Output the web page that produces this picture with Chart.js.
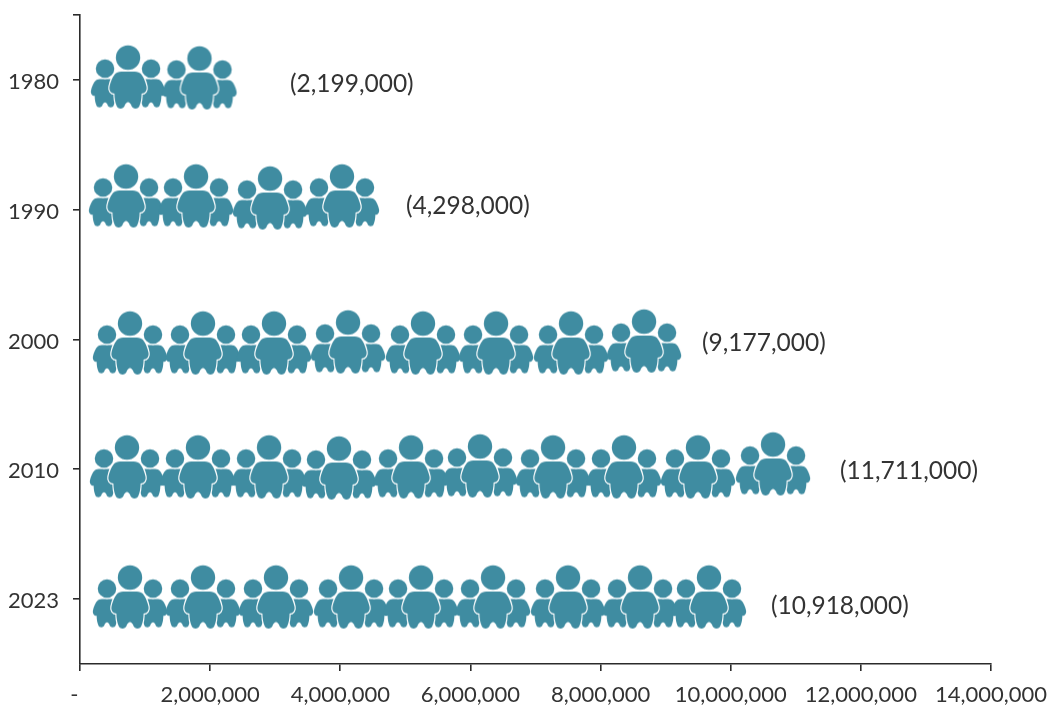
<!DOCTYPE html>
<html>
<head>
<meta charset="utf-8">
<title>Population by year</title>
<script src="https://cdn.jsdelivr.net/npm/chart.js@4"></script>
<style>
  html, body { margin: 0; padding: 0; background: #fff; }
  canvas { display: block; }
</style>
</head>
<body>
<canvas id="peopleChart" width="1050" height="705"></canvas>
<script>
const years = ['1980', '1990', '2000', '2010', '2023'];
const population = [2199000, 4298000, 9177000, 11711000, 10918000];
const xTickValues = [0, 2000000, 4000000, 6000000, 8000000, 10000000, 12000000, 14000000];

// centre of each people icon (x in people, y in rows from the top)
const iconsX1980 = [738000, 1836000];
const iconsY1980 = [0.482, 0.489];
const iconsX1990 = [707000, 1783000, 2920000, 4026000];
const iconsY1990 = [1.398, 1.398, 1.414, 1.398];
const iconsX2000 = [768000, 1890000, 2981000, 4119000, 5271000, 6393000, 7546000, 8668000];
const iconsY2000 = [2.531, 2.531, 2.531, 2.523, 2.531, 2.531, 2.531, 2.516];
const iconsX2010 = [722000, 1813000, 2905000, 3980000, 5087000, 6147000, 7269000, 8360000, 9497000, 10650000];
const iconsY2010 = [3.486, 3.486, 3.486, 3.494, 3.486, 3.478, 3.486, 3.486, 3.486, 3.463];
const iconsX2023 = [768000, 1890000, 3012000, 4165000, 5241000, 6347000, 7500000, 8606000, 9666000];
const iconsY2023 = [4.488, 4.488, 4.488, 4.488, 4.488, 4.488, 4.488, 4.488, 4.488];

// where the value labels start
const labelX = [3227000, 5010000, 9559000, 11680000, 10618000];
const labelY = [0.532, 1.472, 2.527, 3.513, 4.553];

const teal = '#3f8ca1';
const textColor = '#333333';
const axisColor = '#2b2b2b';

function personPath(ctx, x, y, s) {
    ctx.save();
    ctx.translate(x, y);
    ctx.scale(s, s);
    ctx.beginPath();
    ctx.arc(0, 0, 12.2, 0, Math.PI * 2);
    ctx.closePath();
    ctx.moveTo(0, 14);
    ctx.bezierCurveTo(5, 14, 9, 13.5, 12, 15.5);
    ctx.bezierCurveTo(15, 18, 17.5, 24, 18.5, 29);
    ctx.bezierCurveTo(19.2, 33, 17, 36, 13.6, 36);
    ctx.bezierCurveTo(13.6, 41, 12.8, 45, 11.5, 48);
    ctx.bezierCurveTo(10.5, 52, 4, 52, 3.2, 47.5);
    ctx.bezierCurveTo(2.8, 46, 1, 44.5, 0, 44.5);
    ctx.bezierCurveTo(-1, 44.5, -2.8, 46, -3.2, 47.5);
    ctx.bezierCurveTo(-4, 52, -10.5, 52, -11.5, 48);
    ctx.bezierCurveTo(-12.8, 45, -13.6, 41, -13.6, 36);
    ctx.bezierCurveTo(-17, 36, -19.2, 33, -18.5, 29);
    ctx.bezierCurveTo(-17.5, 24, -15, 18, -12, 15.5);
    ctx.bezierCurveTo(-9, 13.5, -5, 14, 0, 14);
    ctx.closePath();
    ctx.restore();
}

function makeIcon() {
    const sharp = document.createElement('canvas');
    sharp.width = 84;
    sharp.height = 70;
    const c = sharp.getContext('2d');
    const cx = 42, cy = 15;
    c.fillStyle = teal;
    personPath(c, cx - 23, cy + 11, 0.76);
    c.fill();
    personPath(c, cx + 23, cy + 11, 0.76);
    c.fill();
    // white gap round the big figure
    personPath(c, cx, cy, 1);
    c.globalCompositeOperation = 'destination-out';
    c.lineWidth = 2.4;
    c.stroke();
    c.globalCompositeOperation = 'source-over';
    c.fill();

    const soft = document.createElement('canvas');
    soft.width = 84;
    soft.height = 70;
    const s = soft.getContext('2d');
    s.filter = 'blur(0.7px)';
    s.drawImage(sharp, 0, 0);
    return soft;
}

const peopleIcon = makeIcon();

function iconData(xs, ys) {
    return xs.map((x, i) => ({ x: x, y: ys[i] }));
}

const valueLabels = {
    id: 'valueLabels',
    afterDatasetsDraw(chart) {
        const { ctx, scales } = chart;
        ctx.save();
        ctx.font = '24.5px Lato';
        ctx.fillStyle = textColor;
        ctx.textAlign = 'left';
        ctx.textBaseline = 'middle';
        population.forEach((v, i) => {
            const text = '(' + v.toLocaleString('en-US') + ')';
            ctx.fillText(text, scales.x.getPixelForValue(labelX[i]), scales.y.getPixelForValue(labelY[i]));
        });
        ctx.restore();
    }
};

const iconDatasets = [
    iconData(iconsX1980, iconsY1980),
    iconData(iconsX1990, iconsY1990),
    iconData(iconsX2000, iconsY2000),
    iconData(iconsX2010, iconsY2010),
    iconData(iconsX2023, iconsY2023)
].map((points, i) => ({
    label: years[i],
    data: points,
    pointStyle: peopleIcon,
    pointRadius: 30,
    clip: false,
    showLine: false
}));

new Chart(document.getElementById('peopleChart'), {
    type: 'scatter',
    data: { datasets: iconDatasets },
    plugins: [valueLabels],
    options: {
        responsive: false,
        animation: false,
        layout: { autoPadding: false, padding: { top: 15, right: 59, bottom: 0, left: 0 } },
        plugins: { legend: { display: false }, tooltip: { enabled: false } },
        scales: {
            x: {
                type: 'linear',
                min: 0,
                max: 14000000,
                afterFit(scale) {
                    scale.height = 41;
                    scale.paddingLeft = 0;
                    scale.paddingRight = 0;
                },
                afterBuildTicks(scale) { scale.ticks = xTickValues.map(v => ({ value: v })); },
                grid: { drawOnChartArea: false, color: axisColor, tickLength: 7, lineWidth: 1.6 },
                border: { color: axisColor, width: 1.6 },
                ticks: {
                    maxRotation: 0,
                    autoSkip: false,
                    padding: 11,
                    color: textColor,
                    font: { family: 'Lato', size: 22 },
                    callback: v => v === 0 ? '-\u00A0\u00A0' : v.toLocaleString('en-US')
                }
            },
            y: {
                type: 'linear',
                reverse: true,
                min: 0,
                max: 5,
                afterFit(scale) {
                    scale.width = 80;
                    scale.paddingTop = 0;
                    scale.paddingBottom = 0;
                },
                afterBuildTicks(scale) {
                    scale.ticks = [0].concat(years.map((_, i) => i + 0.5)).map(v => ({ value: v }));
                },
                grid: { drawOnChartArea: false, color: axisColor, tickLength: 7, lineWidth: 1.6 },
                border: { color: axisColor, width: 1.6 },
                ticks: {
                    autoSkip: false,
                    padding: 14,
                    labelOffset: 2,
                    color: textColor,
                    font: { family: 'Lato', size: 22 },
                    callback: v => v === 0 ? '' : years[v - 0.5]
                }
            }
        }
    }
});
</script>
</body>
</html>
